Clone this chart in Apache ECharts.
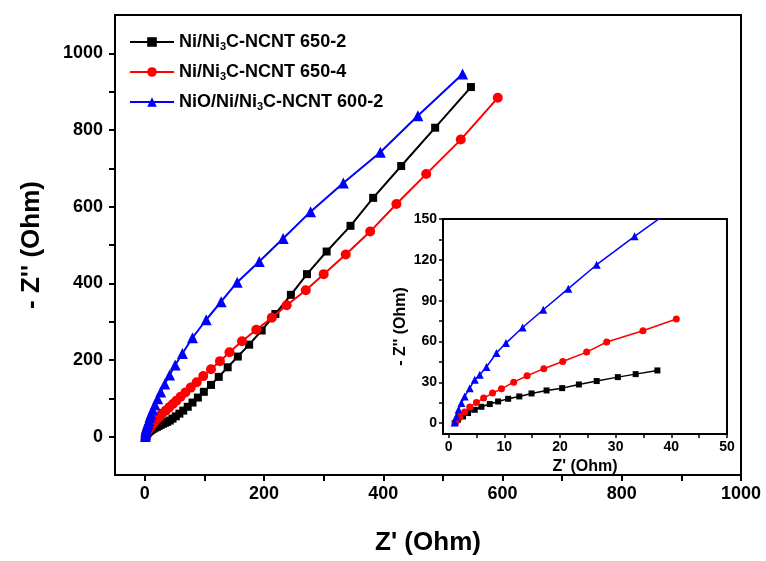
<!DOCTYPE html>
<html>
<head>
<meta charset="utf-8">
<script src="https://cdn.jsdelivr.net/npm/echarts@6/dist/echarts.min.js"></script>
<style>
  html, body { margin: 0; padding: 0; background: #fff; }
  #chart { width: 766px; height: 561px; }
</style>
</head>
<body>
<div id="chart"></div>
<script>
// series names
const names = ['Ni/Ni3C-NCNT 650-2', 'Ni/Ni3C-NCNT 650-4', 'NiO/Ni/Ni3C-NCNT 600-2'];
const colors = ['#000000', '#ff0000', '#0000ff'];
const symbols = ['rect', 'circle', 'triangle'];

// Z' / -Z'' (Ohm)
const blackRe = [1.1, 1.7, 2.6, 3.5, 4.7, 5.9, 7.4, 8.9, 10.7, 12.7, 14.9, 17.6, 20.4, 23.4, 26.6, 30.4, 33.6, 37.5,
  41.8, 46.5, 52, 58, 64.5, 72, 80, 89, 99, 111, 124, 139, 156, 175, 196, 219, 245, 272, 305, 345, 383, 430, 487, 547];
const blackIm = [0, 2.5, 4.9, 7.4, 9.8, 12.0, 14.0, 15.9, 17.9, 19.6, 21.8, 24.0, 25.7, 28.4, 30.9, 33.8, 36.0, 38.7,
  42, 47, 53, 60, 68, 78, 89, 102, 117, 135, 156, 181, 209, 240, 277, 320, 370, 424, 483, 550, 623, 706, 806, 912];

const redRe = [1.3, 2.0, 2.9, 3.8, 5.0, 6.3, 7.9, 9.5, 11.7, 14.1, 17.1, 20.5, 24.8, 28.4, 34.9, 40.9,
  47, 53, 60, 68, 77, 87, 98, 111, 126, 142, 163, 187, 213, 238, 270, 300, 337, 378, 422, 472, 530, 592];
const redIm = [0.5, 4.4, 8.1, 11.8, 15.2, 18.4, 22.1, 25.2, 30.1, 34.8, 40.0, 45.3, 52.2, 59.6, 67.9, 76.5,
  85, 94, 104, 115, 128, 142, 158, 176, 197, 220, 249, 279, 310, 343, 382, 424, 475, 535, 607, 685, 775, 884];

const blueRe = [1.1, 1.4, 1.8, 2.3, 2.9, 3.8, 4.7, 5.6, 6.8, 8.6, 10.3, 13.3, 17.0, 21.5, 26.6, 33.4,
  41.5, 51, 63, 80, 103, 128, 155, 192, 232, 278, 333, 395, 458, 533];
const blueIm = [0.5, 4.9, 9.8, 14.7, 19.6, 25.7, 31.9, 35.5, 41.2, 51.5, 58.8, 70.3, 83.3, 98.8, 116.4, 137.3,
  161, 187, 217, 258, 305, 352, 403, 457, 517, 587, 662, 742, 837, 946];

// how many of the first points the inset plots
const insetCounts = [18, 16, 17];

// ticks
const mainXTicks = [0, 100, 200, 300, 400, 500, 600, 700, 800, 900, 1000];
const mainXLabels = [0, 200, 400, 600, 800, 1000];
const mainYTicks = [0, 100, 200, 300, 400, 500, 600, 700, 800, 900, 1000];
const mainYLabels = [0, 200, 400, 600, 800, 1000];
const insetXTicks = [0, 5, 10, 15, 20, 25, 30, 35, 40, 45, 50];
const insetXLabels = [0, 10, 20, 30, 40, 50];
const insetYTicks = [0, 15, 30, 45, 60, 75, 90, 105, 120, 135, 150];
const insetYLabels = [0, 30, 60, 90, 120, 150];

const re = [blackRe, redRe, blueRe];
const im = [blackIm, redIm, blueIm];
const pairs = re.map((xs, i) => xs.map((x, j) => [x, im[i][j]]));

const FONT = 'Liberation Sans';
const plain = v => String(v);

function axis(gi, opts) {
  return Object.assign({
    type: 'value',
    gridIndex: gi,
    splitLine: { show: false },
    axisLine: { onZero: false, lineStyle: { color: '#000', width: 2 } },
    nameLocation: 'middle',
    nameTextStyle: { color: '#000', fontFamily: FONT, fontWeight: 'bold', fontSize: 26 }
  }, opts);
}

const chart = echarts.init(document.getElementById('chart'), null, { renderer: 'canvas' });

const series = [];
names.forEach((n, i) => {
  series.push({
    name: n, type: 'line', xAxisIndex: 0, yAxisIndex: 0,
    data: pairs[i], symbol: symbols[i], symbolSize: i === 0 ? 8 : (i === 1 ? 10 : 11),
    lineStyle: { color: colors[i], width: 2 },
    itemStyle: { color: colors[i] },
    z: 2 + i
  });
});
names.forEach((n, i) => {
  series.push({
    name: n, type: 'line', xAxisIndex: 1, yAxisIndex: 1,
    data: pairs[i].slice(0, insetCounts[i]), symbol: symbols[i], symbolSize: i === 0 ? 6 : (i === 1 ? 7 : 8),
    lineStyle: { color: colors[i], width: 1.5 },
    itemStyle: { color: colors[i] },
    clip: true,
    z: 12 + i
  });
});

chart.setOption({
  animation: false,
  backgroundColor: '#fff',
  grid: [
    { left: 115, right: 25, top: 15, bottom: 81, show: true, borderColor: '#000', borderWidth: 2 },
    { left: 443, right: 39, top: 219, bottom: 127, show: true, borderColor: '#000', borderWidth: 2, backgroundColor: '#fff', z: 10 }
  ],
  legend: {
    data: names,
    orient: 'vertical',
    left: 124, top: 27,
    itemWidth: 44, itemHeight: 12, itemGap: 10,
    formatter: n => n.replace('Ni3C', 'Ni{s|3}C'),
    textStyle: {
      color: '#000', fontFamily: FONT, fontWeight: 'bold', fontSize: 18, lineHeight: 20,
      rich: { s: { fontFamily: FONT, fontWeight: 'bold', fontSize: 11, padding: [9, 0, 0, 0] } }
    }
  },
  xAxis: [
    axis(0, {
      min: -50, max: 1000, name: "Z' (Ohm)", nameGap: 55,
      axisTick: { length: 6, lineStyle: { color: '#000', width: 2 }, customValues: mainXTicks },
      axisLabel: { color: '#000', fontFamily: FONT, fontWeight: 'bold', fontSize: 18, margin: 10, formatter: plain, customValues: mainXLabels }
    }),
    axis(1, {
      min: -1, max: 50, name: "Z' (Ohm)", nameGap: 25, z: 11,
      nameTextStyle: { color: '#000', fontFamily: FONT, fontWeight: 'bold', fontSize: 16 },
      axisTick: { length: 4, lineStyle: { color: '#000', width: 1.5 }, customValues: insetXTicks },
      axisLabel: { color: '#000', fontFamily: FONT, fontWeight: 'bold', fontSize: 14, margin: 6, formatter: plain, customValues: insetXLabels }
    })
  ],
  yAxis: [
    axis(0, {
      min: -100, max: 1100, name: "- Z'' (Ohm)", nameGap: 70,
      axisTick: { length: 6, lineStyle: { color: '#000', width: 2 }, customValues: mainYTicks },
      axisLabel: { color: '#000', fontFamily: FONT, fontWeight: 'bold', fontSize: 18, margin: 12, formatter: plain, customValues: mainYLabels }
    }),
    axis(1, {
      min: -8, max: 150, name: "- Z'' (Ohm)", nameGap: 34, z: 11,
      nameTextStyle: { color: '#000', fontFamily: FONT, fontWeight: 'bold', fontSize: 16 },
      axisTick: { length: 4, lineStyle: { color: '#000', width: 1.5 }, customValues: insetYTicks },
      axisLabel: { color: '#000', fontFamily: FONT, fontWeight: 'bold', fontSize: 14, margin: 6, formatter: plain, customValues: insetYLabels }
    })
  ],
  series: series
});
</script>
</body>
</html>
